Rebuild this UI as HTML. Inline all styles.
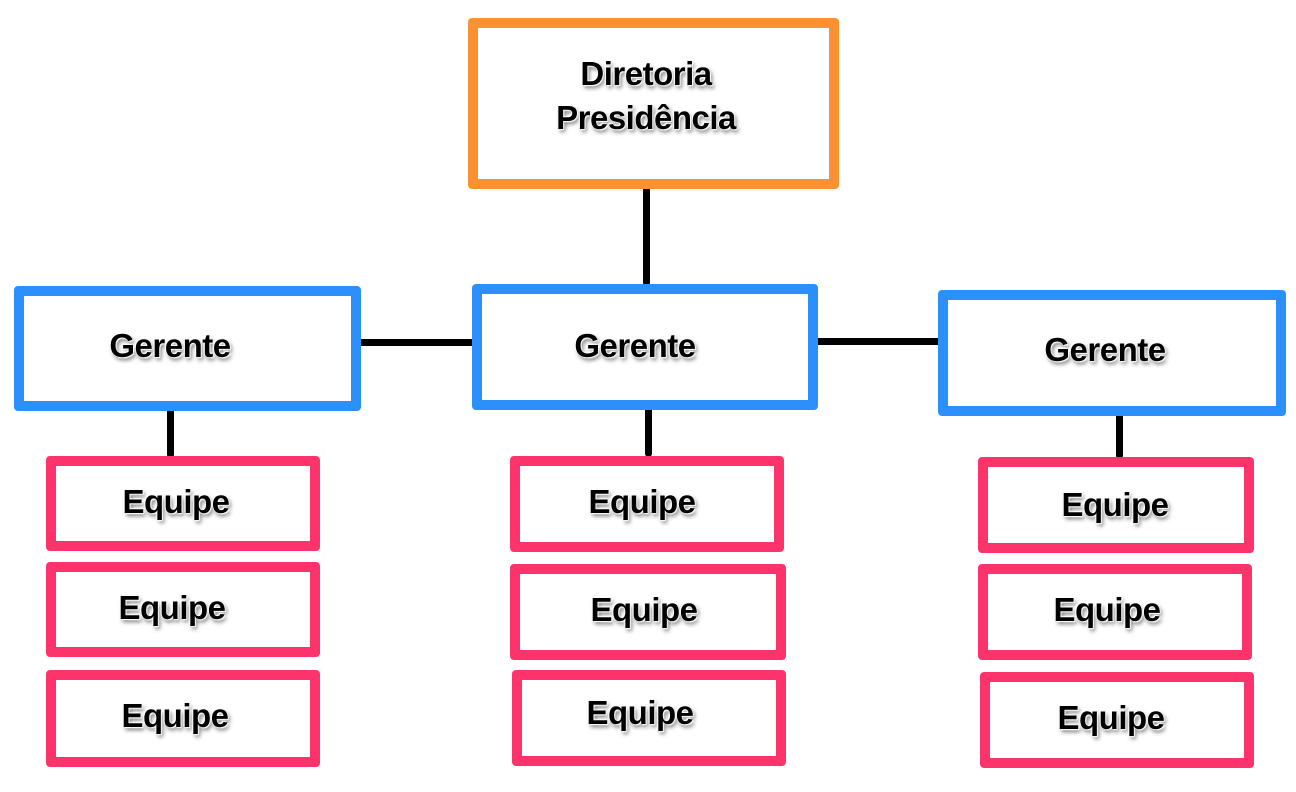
<!DOCTYPE html>
<html><head><meta charset="utf-8"><style>
body{margin:0;width:1296px;height:792px;background:#fff;position:relative;overflow:hidden;font-family:"Liberation Sans",Arial,sans-serif}
.b{position:absolute;box-sizing:border-box;border:10px solid;border-radius:4px;background:#fff}
.o{border-color:#fc9132}.bl{border-color:#2b90fc}.p{border-color:#fd336c}
.l{position:absolute;background:#000;border-radius:4px}
.t{position:absolute;transform:translate(-50%,-50%);font-weight:bold;font-size:33px;letter-spacing:-0.5px;color:#000;white-space:nowrap;text-align:center;line-height:44px;
text-shadow:0 0 2px #fff,1px 1px 1px #fff,-1px -1px 1px #fff,2px 3px 4px rgba(0,0,0,.55)}
</style></head><body>
<div class="l" style="left:643px;top:186px;width:7px;height:100px"></div>
<div class="l" style="left:354px;top:339px;width:124px;height:7px"></div>
<div class="l" style="left:815px;top:338px;width:126px;height:7px"></div>
<div class="l" style="left:167px;top:408px;width:7px;height:50px"></div>
<div class="l" style="left:645px;top:407px;width:7px;height:50px"></div>
<div class="l" style="left:1116px;top:412px;width:7px;height:47px"></div>

<div class="b o" style="left:468px;top:18px;width:371px;height:171px"></div>
<div class="b bl" style="left:14px;top:286px;width:347px;height:125px"></div>
<div class="b bl" style="left:472px;top:284px;width:346px;height:126px"></div>
<div class="b bl" style="left:938px;top:290px;width:348px;height:126px"></div>

<div class="b p" style="left:46px;top:456px;width:274px;height:95px"></div>
<div class="b p" style="left:46px;top:562px;width:274px;height:95px"></div>
<div class="b p" style="left:46px;top:670px;width:274px;height:97px"></div>
<div class="b p" style="left:510px;top:456px;width:274px;height:96px"></div>
<div class="b p" style="left:510px;top:564px;width:276px;height:96px"></div>
<div class="b p" style="left:512px;top:670px;width:274px;height:96px"></div>
<div class="b p" style="left:978px;top:457px;width:276px;height:96px"></div>
<div class="b p" style="left:978px;top:564px;width:274px;height:96px"></div>
<div class="b p" style="left:980px;top:672px;width:274px;height:96px"></div>

<div class="t" style="left:646px;top:96px">Diretoria<br>Presidência</div>
<div class="t" style="left:170px;top:346px">Gerente</div>
<div class="t" style="left:635px;top:346px">Gerente</div>
<div class="t" style="left:1105px;top:350px">Gerente</div>
<div class="t" style="left:176px;top:502px">Equipe</div>
<div class="t" style="left:172px;top:608px">Equipe</div>
<div class="t" style="left:175px;top:716px">Equipe</div>
<div class="t" style="left:642px;top:502px">Equipe</div>
<div class="t" style="left:644px;top:610px">Equipe</div>
<div class="t" style="left:640px;top:713px">Equipe</div>
<div class="t" style="left:1115px;top:505px">Equipe</div>
<div class="t" style="left:1107px;top:610px">Equipe</div>
<div class="t" style="left:1111px;top:718px">Equipe</div>
</body></html>
